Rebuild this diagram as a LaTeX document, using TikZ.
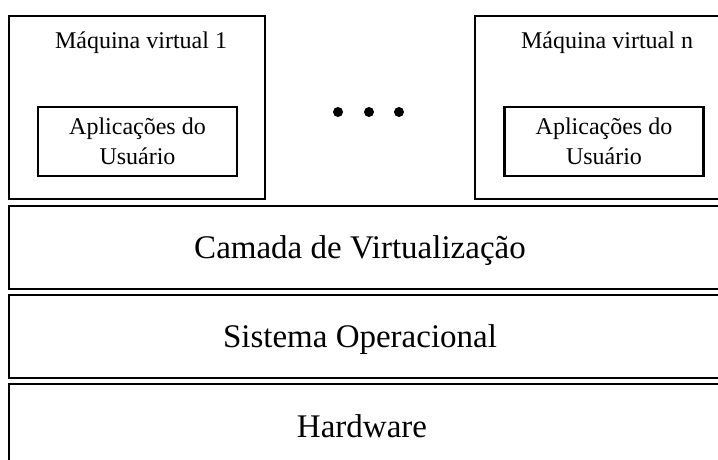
\documentclass[tikz,border=0pt]{standalone}
\usepackage{fontspec}
\setmainfont{Liberation Serif}
\begin{document}
\begin{tikzpicture}[x=1pt,y=-1pt,
  vmbox/.style={draw, line width=1.6pt, minimum width=256pt, minimum height=183pt, inner sep=0pt},
  appbox/.style={draw, line width=2.6pt, minimum width=199pt, minimum height=69pt, inner sep=0pt,
    align=center, font=\fontsize{24}{30}\selectfont},
  vmtitle/.style={anchor=base, inner sep=0pt, font=\fontsize{24}{30}\selectfont},
  layerbox/.style={draw, line width=1.6pt, minimum width=722pt, minimum height=83pt, inner sep=0pt},
  layertext/.style={anchor=base, inner sep=0pt, font=\fontsize{33}{40}\selectfont},
  dotmark/.style={circle, fill, inner sep=0pt, minimum size=10pt}]
\useasboundingbox (0,0) rectangle (718,459);
\clip (0,0) rectangle (718,459);

% virtual machines
\node[vmbox] (vm1) at (137,107.5) {};
\node[vmtitle] (vm1title) at (141,48) {Máquina virtual 1};
\node[appbox] (app1) at (137.5,141.5) {Aplicações do\\Usuário};

\node[vmbox] (vmn) at (603,107.5) {};
\node[vmtitle] (vmntitle) at (607,48) {Máquina virtual n};
\node[appbox] (appn) at (604,141.5) {Aplicações do\\Usuário};

% ellipsis between the machines
\node[dotmark] (d1) at (338,112) {};
\node[dotmark] (d2) at (369,112) {};
\node[dotmark] (d3) at (399,112) {};

% stacked layers
\node[layerbox] (virt) at (370,247.5) {};
\node[layertext] (virttext) at (360,258.4) {Camada de Virtualização};
\node[layerbox] (so) at (370,336.5) {};
\node[layertext] (sotext) at (360,347.4) {Sistema Operacional};
\node[layerbox] (hw) at (370,425.5) {};
\node[layertext] (hwtext) at (362,437) {Hardware};
\end{tikzpicture}
\end{document}
